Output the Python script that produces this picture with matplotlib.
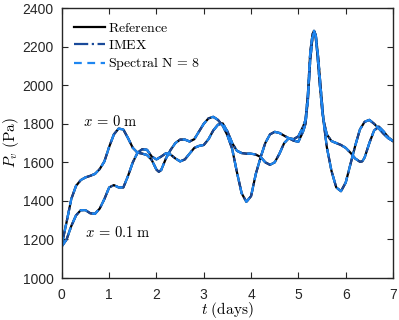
import numpy as np
import matplotlib
matplotlib.use("Agg")
import matplotlib.pyplot as plt

plt.rcParams["mathtext.fontset"] = "cm"
plt.rcParams["font.family"] = ["Liberation Sans", "DejaVu Sans"]

# pressure at the boundary, x = 0 m
t_x0 = [0.0, 0.1, 0.2, 0.3, 0.4, 0.5, 0.6, 0.7, 0.8, 0.9, 1.0, 1.1, 1.2, 1.3, 1.4,
        1.5, 1.6, 1.7, 1.8, 1.9, 2.0, 2.05, 2.1, 2.2, 2.3, 2.4, 2.5, 2.6, 2.7, 2.8,
        2.9, 3.0, 3.1, 3.2, 3.3, 3.4, 3.5, 3.6, 3.7, 3.8, 3.9, 4.0, 4.1, 4.2, 4.3,
        4.4, 4.5, 4.6, 4.7, 4.8, 4.9, 5.0, 5.1, 5.15, 5.2, 5.25, 5.3, 5.33, 5.36,
        5.4, 5.45, 5.5, 5.6, 5.7, 5.8, 5.9, 6.0, 6.1, 6.2, 6.3, 6.4, 6.5, 6.6, 6.7,
        6.8, 6.9, 7.0]
p_x0 = [1175, 1290, 1410, 1478, 1508, 1522, 1530, 1540, 1565, 1605, 1680, 1745, 1775,
        1770, 1725, 1675, 1650, 1645, 1638, 1612, 1562, 1551, 1560, 1620, 1665, 1700,
        1718, 1718, 1708, 1720, 1760, 1800, 1828, 1836, 1820, 1790, 1740, 1670, 1550,
        1440, 1395, 1425, 1540, 1625, 1700, 1745, 1758, 1752, 1738, 1725, 1720, 1735,
        1785, 1820, 1950, 2170, 2265, 2282, 2260, 2165, 2010, 1875, 1680, 1555, 1470,
        1450, 1495, 1590, 1685, 1770, 1810, 1820, 1800, 1775, 1748, 1725, 1710]

# pressure inside, x = 0.1 m
t_x01 = [0.0, 0.1, 0.2, 0.3, 0.4, 0.5, 0.6, 0.7, 0.8, 0.9, 1.0, 1.1, 1.2, 1.3, 1.4,
         1.5, 1.6, 1.7, 1.8, 1.9, 2.0, 2.1, 2.2, 2.3, 2.4, 2.5, 2.6, 2.7, 2.8, 2.9,
         3.0, 3.1, 3.2, 3.3, 3.4, 3.5, 3.6, 3.7, 3.8, 3.9, 4.0, 4.1, 4.2, 4.3, 4.4,
         4.5, 4.6, 4.7, 4.8, 4.9, 5.0, 5.1, 5.15, 5.2, 5.25, 5.3, 5.34, 5.37, 5.42,
         5.47, 5.53, 5.6, 5.7, 5.8, 5.9, 6.0, 6.1, 6.2, 6.3, 6.35, 6.4, 6.5, 6.6, 6.7,
         6.8, 6.9, 7.0]
p_x01 = [1165, 1200, 1270, 1325, 1352, 1352, 1336, 1333, 1360, 1410, 1470, 1482, 1470,
         1470, 1530, 1600, 1650, 1668, 1665, 1630, 1615, 1630, 1647, 1640, 1620, 1605,
         1615, 1645, 1675, 1685, 1690, 1720, 1765, 1795, 1802, 1760, 1700, 1660, 1648,
         1645, 1645, 1640, 1628, 1600, 1587, 1600, 1645, 1700, 1725, 1712, 1707, 1760,
         1800, 1920, 2130, 2250, 2278, 2255, 2140, 1990, 1820, 1745, 1710, 1700, 1690,
         1675, 1650, 1620, 1603, 1605, 1625, 1700, 1765, 1785, 1760, 1730, 1710]

series = [
    ("Reference", dict(color="black", linestyle="-", linewidth=1.6)),
    ("IMEX", dict(color="#1a4a9a", linestyle="-.", linewidth=1.6)),
    ("Spectral N = 8", dict(color="#1e86f0", linestyle=(0, (3.5, 2.5)), linewidth=1.6)),
]
labels = {"Reference": r"$\mathrm{Reference}$",
          "IMEX": r"$\mathrm{IMEX}$",
          "Spectral N = 8": r"$\mathrm{Spectral\ N}\,=\,8$"}

fig = plt.figure(figsize=(3.99, 3.2), dpi=100)
ax = fig.add_axes([0.155, 0.131, 0.83, 0.844])

for name, style in series:
    ax.plot(t_x0, p_x0, label=labels[name], **style)
    ax.plot(t_x01, p_x01, **style)

ax.set_xlim(0, 7)
ax.set_ylim(1000, 2400)
ax.set_xticks(range(0, 8))
ax.set_yticks(range(1000, 2401, 200))
ax.tick_params(direction="in", top=True, right=True, length=4, width=0.8,
               labelsize=10, colors="#262626")
ax.tick_params(axis="x", pad=7)
ax.tick_params(axis="y", pad=6)
for sp in ax.spines.values():
    sp.set_linewidth(1.0)
    sp.set_color("#262626")

ax.set_xlabel(r"$t\ \mathrm{(days)}$", fontsize=11, labelpad=-1)
ax.set_ylabel(r"$P_v\ \mathrm{(Pa)}$", fontsize=11, labelpad=1)

ax.text(0.45, 1790, r"$x\,=\,0\ \mathrm{m}$", fontsize=10.5)
ax.text(0.48, 1215, r"$x\,=\,0.1\ \mathrm{m}$", fontsize=10.5)

ax.legend(loc="upper left", frameon=False, fontsize=10, handlelength=2.2,
          handletextpad=0.2, borderaxespad=0.5, labelspacing=0.25)

fig.savefig("out.png", dpi=100)
